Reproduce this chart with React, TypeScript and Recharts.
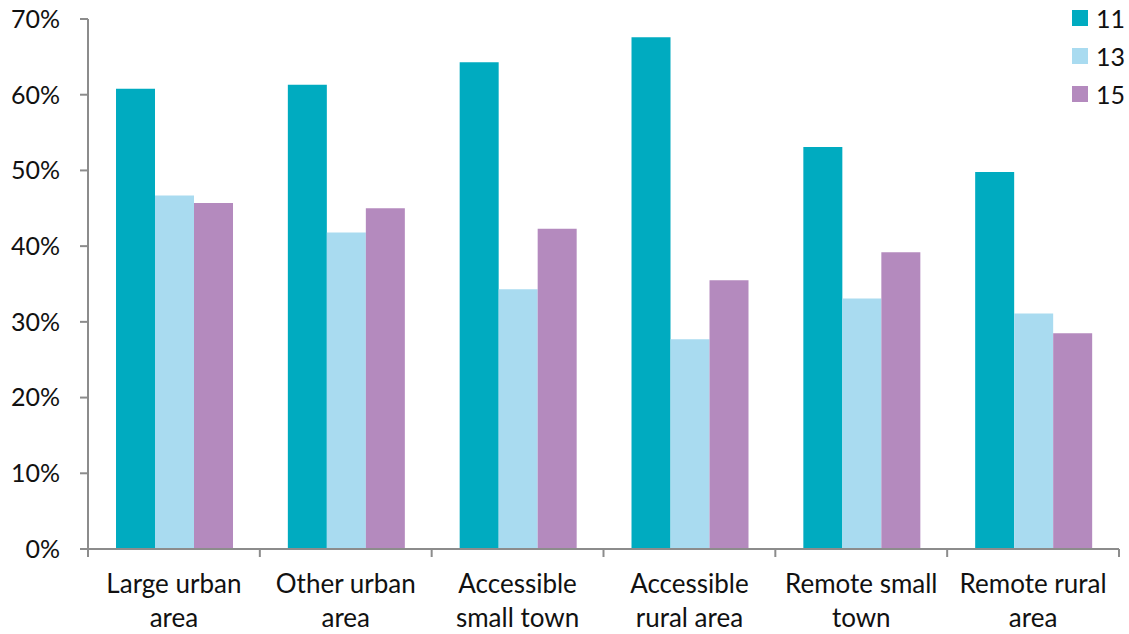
import { Bar, BarChart, Legend, XAxis, YAxis } from "recharts";

// Share of respondents by urban/rural classification, per age group.
const areas = [
  ["Large urban", "area"],
  ["Other urban", "area"],
  ["Accessible", "small town"],
  ["Accessible", "rural area"],
  ["Remote small", "town"],
  ["Remote rural", "area"],
];
const age11 = [60.8, 61.3, 64.3, 67.6, 53.1, 49.8];
const age13 = [46.7, 41.8, 34.3, 27.7, 33.1, 31.1];
const age15 = [45.7, 45.0, 42.3, 35.5, 39.2, 28.5];
const yTicks = [0, 10, 20, 30, 40, 50, 60, 70];

const series = [
  { key: "a11", name: "11", color: "#00abc0" },
  { key: "a13", name: "13", color: "#a9dbf0" },
  { key: "a15", name: "15", color: "#b48abe" },
];

const rows = areas.map((label, i) => ({
  area: label.join(" "),
  lines: label,
  a11: age11[i],
  a13: age13[i],
  a15: age15[i],
}));

const WIDTH = 1129;
const HEIGHT = 634;
const MARGIN = { top: 19, right: 10, left: 0, bottom: 0 };
const Y_AXIS_W = 88;
const AXIS_COLOR = "#8c8c8c";
const FONT = "Lato, 'Open Sans', sans-serif";

const band = (WIDTH - MARGIN.left - MARGIN.right - Y_AXIS_W) / areas.length;

// Category labels plus Excel-style tick marks on the category boundaries.
function AreaTick(props: any) {
  const { x, y, payload, index } = props;
  const lines = rows[index]?.lines ?? [payload.value];
  const left = x - band / 2;
  return (
    <g>
      <line x1={left} x2={left} y1={y - 8} y2={y} stroke={AXIS_COLOR} strokeWidth={2} />
      {index === areas.length - 1 && (
        <line x1={left + band} x2={left + band} y1={y - 8} y2={y} stroke={AXIS_COLOR} strokeWidth={2} />
      )}
      {lines.map((t: string, i: number) => (
        <text
          key={t}
          x={x}
          y={y + 36 + i * 34}
          textAnchor="middle"
          fontSize={26}
          fontFamily={FONT}
          fill="#111"
        >
          {t}
        </text>
      ))}
    </g>
  );
}

function AgeLegend() {
  return (
    <div style={{ fontFamily: FONT, fontSize: 25, color: "#111" }}>
      {series.map((s) => (
        <div key={s.key} style={{ display: "flex", alignItems: "center", height: 38 }}>
          <span style={{ width: 16, height: 16, background: s.color, marginRight: 8 }} />
          <span>{s.name}</span>
        </div>
      ))}
    </div>
  );
}

export default function App() {
  return (
    <div style={{ position: "absolute", left: 0, top: 0, background: "#fff" }}>
      <BarChart
        width={WIDTH}
        height={HEIGHT}
        data={rows}
        margin={MARGIN}
        barCategoryGap="16.3%"
        barGap={0}
      >
        <XAxis
          dataKey="area"
          height={HEIGHT - 549 - MARGIN.bottom}
          interval={0}
          axisLine={{ stroke: AXIS_COLOR, strokeWidth: 2 }}
          tickLine={false}
          tickSize={8}
          tickMargin={0}
          tick={<AreaTick />}
        />
        <YAxis
          width={Y_AXIS_W}
          domain={[0, 70]}
          ticks={yTicks}
          interval={0}
          tickFormatter={(v) => `${v}%`}
          axisLine={{ stroke: AXIS_COLOR, strokeWidth: 2 }}
          tickLine={{ stroke: AXIS_COLOR, strokeWidth: 2 }}
          tickSize={8}
          tickMargin={20}
          tick={{ fontSize: 25, fontFamily: FONT, fill: "#111" }}
        />
        <Legend
          layout="vertical"
          align="center"
          verticalAlign="middle"
          content={<AgeLegend />}
          wrapperStyle={{ left: 1072, top: -1, width: 60 }}
        />
        {series.map((s) => (
          <Bar key={s.key} dataKey={s.key} name={s.name} fill={s.color} isAnimationActive={false} />
        ))}
      </BarChart>
    </div>
  );
}
